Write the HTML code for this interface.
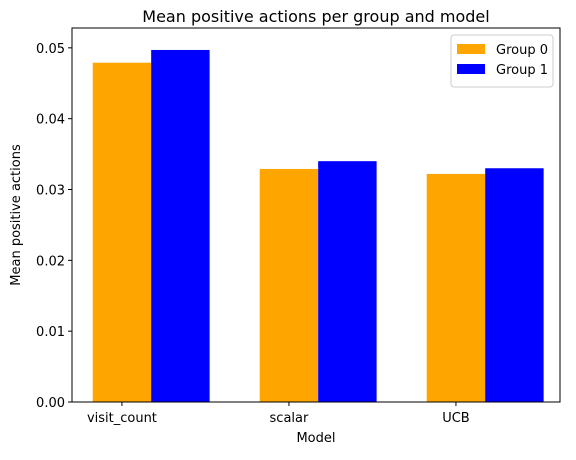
<!DOCTYPE html>
<html><head><meta charset="utf-8"><style>
body{margin:0;background:#fff;font-family:"Liberation Sans","DejaVu Sans",sans-serif;}
svg text{font-family:"DejaVu Sans","Liberation Sans",sans-serif;}
</style></head><body>
<svg id="chart" width="576" height="455" xmlns="http://www.w3.org/2000/svg"></svg>
<script>
const categories = ["visit_count", "scalar", "UCB"];
const group0 = [0.0479, 0.0329, 0.0322];
const group1 = [0.0497, 0.0340, 0.0330];
const yTicks = [0.00, 0.01, 0.02, 0.03, 0.04, 0.05];
const seriesNames = ["Group 0", "Group 1"];

const svg = document.getElementById('chart');
const NS = "http://www.w3.org/2000/svg";
const L=72, R=560, T=28, B=402;
const xMin=-0.299, xMax=2.623, yMax=0.0528;
const W=0.35;
const xs = v => L + (v - xMin)/(xMax - xMin)*(R-L);
const ys = v => B - v/yMax*(B-T);
function mk(tag, attrs, parent){const e=document.createElementNS(NS,tag);for(const k in attrs)e.setAttribute(k,attrs[k]);(parent||svg).appendChild(e);return e;}

const colors=["orange","blue"];
[group0,group1].forEach((s,si)=>{
  s.forEach((v,i)=>{
    const x0=xs(i+si*W-W/2), x1=xs(i+si*W+W/2);
    const r=mk('rect',{x:x0,y:ys(v),width:x1-x0,height:B-ys(v),fill:colors[si]});
    
    
  });
});

const frame=mk('rect',{x:L,y:T,width:R-L,height:B-T,fill:'none',stroke:'#000','stroke-width':1});



yTicks.forEach(t=>{
  const y=ys(t);
  mk('line',{x1:L-4,x2:L,y1:y,y2:y,stroke:'#000'});
  const tx=mk('text',{x:L-7,y:y+5,'text-anchor':'end','font-size':'13'});
  tx.textContent=t.toFixed(2);
  
  
});
categories.forEach((c,i)=>{
  const x=xs(i);
  mk('line',{x1:x,x2:x,y1:B,y2:B+4,stroke:'#000'});
  const tx=mk('text',{x:x,y:B+20,'text-anchor':'middle','font-size':'13'});
  tx.textContent=c;
  
  
});
const xt=mk('text',{x:(L+R)/2,y:442,'text-anchor':'middle','font-size':'13'});xt.textContent='Model';


const yt=mk('text',{x:20,y:(T+B)/2,'text-anchor':'middle','font-size':'13',transform:`rotate(-90 20 ${(T+B)/2})`});yt.textContent='Mean positive actions';


const ti=mk('text',{x:(L+R)/2,y:22,'text-anchor':'middle','font-size':'16'});ti.textContent='Mean positive actions per group and model';



const lg=mk('g',{});


mk('rect',{x:451,y:35,width:102,height:52,rx:3,fill:'#fff',stroke:'#ccc'},lg);
seriesNames.forEach((n,i)=>{
  const y=44+i*20;
  mk('rect',{x:457,y:y,width:28,height:10,fill:colors[i]},lg);
  const tx=mk('text',{x:496,y:y+10,'font-size':'13'},lg);tx.textContent=n;
  
  
});
</script>
</body></html>
